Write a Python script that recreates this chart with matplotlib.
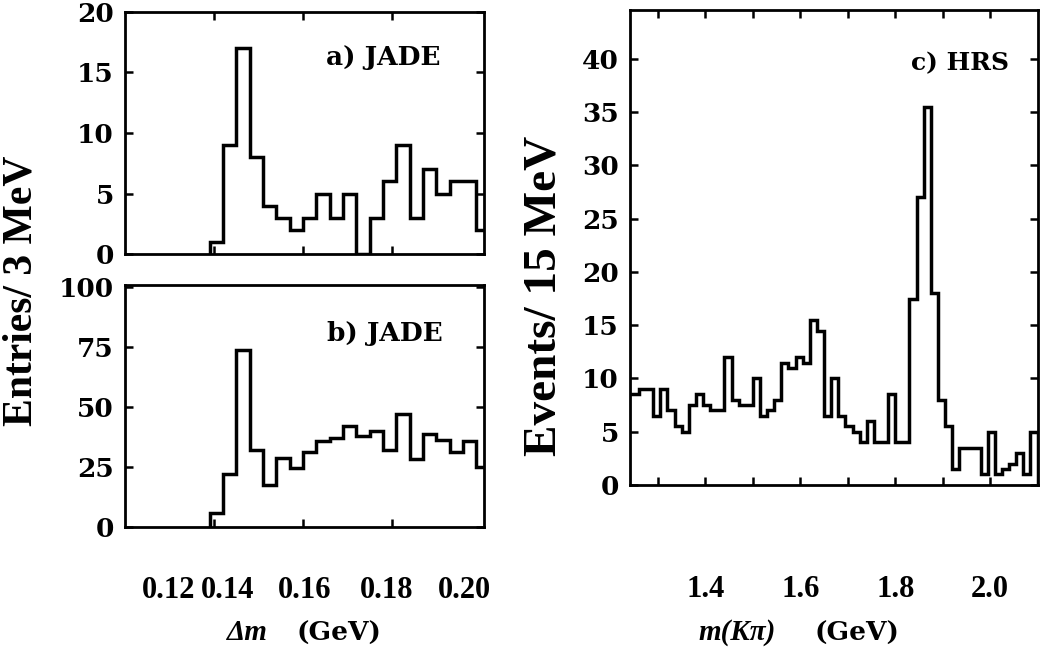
import numpy as np
import matplotlib.pyplot as plt

plt.rcParams['font.family'] = 'DejaVu Serif'
plt.rcParams['font.weight'] = 'bold'

# Delta m histograms (3 MeV bins starting at 0.139 GeV)
dm_start = 0.139
dm_width = 0.003
jade_a = [1, 9, 17, 8, 4, 3, 2, 3, 5, 3, 5, 0, 3, 6, 9, 3, 7, 5, 6, 6, 2]
jade_b = [6, 22, 74, 32, 17.5, 29, 24.5, 31.5, 36, 37, 42, 38, 40, 32, 47,
          28.5, 39, 36.5, 31.5, 36, 25]

# m(K pi) histogram (15 MeV bins starting at 1.23 GeV)
mk_start = 1.23
mk_width = 0.015
hrs_c = [8.5, 8.5, 9, 9, 6.5, 9, 7, 5.5, 5, 7.5, 8.5, 7.5, 7, 7, 12, 8, 7.5,
         7.5, 10, 6.5, 7, 8, 11.5, 11, 12, 11.5, 15.5, 14.5, 6.5, 10, 6.5,
         5.5, 5, 4, 6, 4, 4, 8.5, 4, 4, 17.5, 27, 35.5, 18, 8, 5.5, 1.5, 3.5,
         3.5, 3.5, 1, 5, 1, 1.5, 2, 3, 1, 5]

dm_marks = [0.14, 0.16, 0.18]
dm_labels = ['0.12', '0.14', '0.16', '0.18', '0.20']
dm_label_pos = [0.1297, 0.1431, 0.1604, 0.1787, 0.1964]
mk_marks = [1.3, 1.4, 1.5, 1.6, 1.7, 1.8, 1.9, 2.0]
mk_labels = ['1.4', '1.6', '1.8', '2.0']

edges_a = dm_start + dm_width * np.arange(len(jade_a) + 1)
edges_c = mk_start + mk_width * np.arange(len(hrs_c) + 1)

W, H = 1041, 659
fig = plt.figure(figsize=(W / 100, H / 100), dpi=100)

def box(l, t, r, b):
    return [l / W, 1 - b / H, (r - l) / W, (b - t) / H]

ax_a = fig.add_axes(box(125, 12, 484, 254))
ax_b = fig.add_axes(box(125, 285, 484, 527))
ax_c = fig.add_axes(box(630, 10, 1038, 485))

times = 'Liberation Serif'
lw = 2.5
ax_a.stairs(jade_a, edges_a, color='black', lw=lw)
ax_b.stairs(jade_b, edges_a, color='black', lw=lw)
ax_c.stairs(hrs_c, edges_c, color='black', lw=lw)

for ax in (ax_a, ax_b, ax_c):
    for s in ax.spines.values():
        s.set_linewidth(2.0)
    ax.tick_params(direction='in', length=6, width=1.8, labelsize=19)

ax_a.set_xlim(0.12, 0.2007)
ax_a.set_ylim(0, 20)
ax_a.set_yticks([0, 5, 10, 15, 20])
ax_a.set_xticks(dm_marks)
ax_a.tick_params(axis='x', top=True, labelbottom=False)
ax_a.tick_params(axis='y', right=True, pad=8)
ax_a.text(0.88, 0.81, 'a) JADE', transform=ax_a.transAxes, ha='right',
          va='center', fontsize=19)

ax_b.set_xlim(0.12, 0.2007)
ax_b.set_ylim(0, 101)
ax_b.set_yticks([0, 25, 50, 75, 100])
ax_b.set_xticks(dm_marks, minor=True)
ax_b.set_xticks(dm_label_pos, labels=dm_labels, fontfamily=times, fontsize=22)
ax_b.tick_params(axis='x', which='major', length=0, pad=35)
ax_b.tick_params(axis='x', which='minor', direction='in', length=6, width=1.8)
ax_b.tick_params(axis='y', right=True, pad=8)
ax_b.text(0.885, 0.80, 'b) JADE', transform=ax_b.transAxes, ha='right',
          va='center', fontsize=19)

ax_c.set_xlim(1.241, 2.101)
ax_c.set_ylim(0, 44.6)
ax_c.set_yticks(range(0, 45, 5))
ax_c.set_xticks(mk_marks, minor=True)
ax_c.set_xticks([1.4, 1.6, 1.8, 2.0], labels=mk_labels, fontfamily=times,
                fontsize=22)
ax_c.tick_params(axis='x', which='both', top=True, pad=65)
ax_c.tick_params(axis='x', which='minor', direction='in', length=6, width=1.8)
ax_c.tick_params(axis='y', right=True, pad=8)
ax_c.text(0.93, 0.888, 'c) HRS', transform=ax_c.transAxes, ha='right',
          va='center', fontsize=18)

fig.text(22 / W, 1 - 291 / H, 'Entries/ 3 MeV', rotation=90, ha='center',
         va='center', fontsize=30, fontfamily=times)
fig.text(545 / W, 1 - 296 / H, 'Events/ 15 MeV', rotation=90, ha='center',
         va='center', fontsize=34, fontfamily=times)

fig.text(247 / W, 1 - 633 / H, 'Δm', style='italic', ha='center',
         va='center', fontsize=21, fontfamily=times)
fig.text(339 / W, 1 - 633 / H, '(GeV)', ha='center', va='center', fontsize=19)
fig.text(737 / W, 1 - 633 / H, 'm(Kπ)', style='italic', ha='center',
         va='center', fontsize=21, fontfamily=times)
fig.text(857 / W, 1 - 633 / H, '(GeV)', ha='center', va='center', fontsize=19)

fig.savefig('out.png', dpi=100)
